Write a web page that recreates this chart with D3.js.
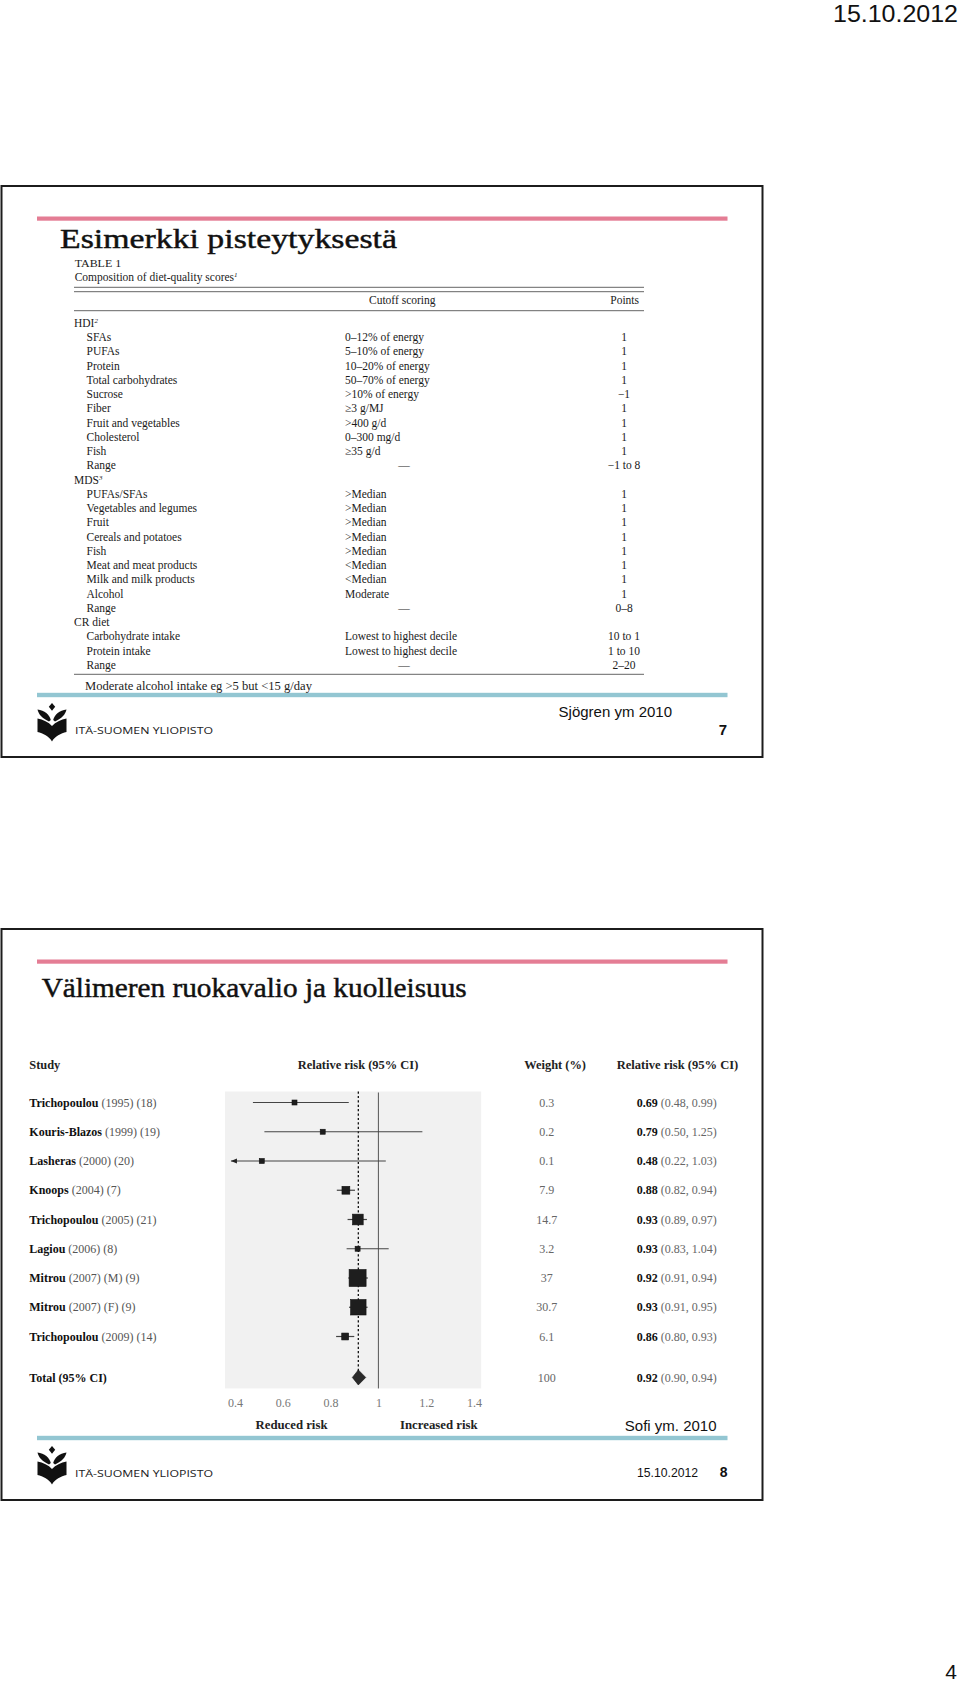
<!DOCTYPE html>
<html><head><meta charset="utf-8">
<script src="https://cdn.jsdelivr.net/npm/d3@7"></script>
<style>html,body{margin:0;padding:0;background:#fff}svg{display:block}</style>
</head><body>
<svg id="c" width="960" height="1684"></svg>
<script>
// ---------------- DATA ----------------
const pageDate = "15.10.2012";
const pageNumber = "4";

// Slide 1
const slide1Title = "Esimerkki pisteytyksestä";
const tableTitle = "TABLE 1";
const tableCaption = "Composition of diet-quality scores";
const tableHeaders = ["Cutoff scoring", "Points"];
const groupNames = ["HDI", "MDS", "CR diet"];
const groupSups = ["2", "3", ""];
const hdiItems = ["SFAs","PUFAs","Protein","Total carbohydrates","Sucrose","Fiber","Fruit and vegetables","Cholesterol","Fish","Range"];
const hdiCutoffs = ["0–12% of energy","5–10% of energy","10–20% of energy","50–70% of energy",">10% of energy","≥3 g/MJ",">400 g/d","0–300 mg/d","≥35 g/d","—"];
const hdiPoints = ["1","1","1","1","−1","1","1","1","1","−1 to 8"];
const mdsItems = ["PUFAs/SFAs","Vegetables and legumes","Fruit","Cereals and potatoes","Fish","Meat and meat products","Milk and milk products","Alcohol","Range"];
const mdsCutoffs = [">Median",">Median",">Median",">Median",">Median","<Median","<Median","Moderate","—"];
const mdsPoints = ["1","1","1","1","1","1","1","1","0–8"];
const crItems = ["Carbohydrate intake","Protein intake","Range"];
const crCutoffs = ["Lowest to highest decile","Lowest to highest decile","—"];
const crPoints = ["10 to 1","1 to 10","2–20"];
const footnote1 = "Moderate alcohol intake eg >5 but <15 g/day";
const source1 = "Sjögren ym 2010";
const slideNo1 = "7";

// Slide 2 (forest plot)
const slide2Title = "Välimeren ruokavalio ja kuolleisuus";
const forestHeaders = ["Study", "Relative risk (95% CI)", "Weight (%)", "Relative risk (95% CI)"];
const studyNames = ["Trichopoulou","Kouris-Blazos","Lasheras","Knoops","Trichopoulou","Lagiou","Mitrou","Mitrou","Trichopoulou"];
const studyRefs = ["(1995) (18)","(1999) (19)","(2000) (20)","(2004) (7)","(2005) (21)","(2006) (8)","(2007) (M) (9)","(2007) (F) (9)","(2009) (14)"];
const weights = [0.3, 0.2, 0.1, 7.9, 14.7, 3.2, 37, 30.7, 6.1];
const weightLabels = ["0.3","0.2","0.1","7.9","14.7","3.2","37","30.7","6.1"];
const rrLabels = ["0.69","0.79","0.48","0.88","0.93","0.93","0.92","0.93","0.86"];
const ciLabels = ["(0.48, 0.99)","(0.50, 1.25)","(0.22, 1.03)","(0.82, 0.94)","(0.89, 0.97)","(0.83, 1.04)","(0.91, 0.94)","(0.91, 0.95)","(0.80, 0.93)"];
// marker positions as drawn in the plot
const estDrawn = [0.649, 0.767, 0.512, 0.864, 0.914, 0.913, 0.913, 0.916, 0.861];
const lowDrawn = [0.475, 0.523, 0.22, 0.826, 0.871, 0.867, 0.874, 0.877, 0.823];
const highDrawn = [0.876, 1.184, 1.031, 0.902, 0.952, 1.043, 0.956, 0.955, 0.899];
const totalLabel = "Total (95% CI)";
const totalWeight = "100";
const totalRR = "0.92", totalCI = "(0.90, 0.94)";
const totalEst = 0.916, totalLow = 0.891, totalHigh = 0.947;
const xTicks = [0.4, 0.6, 0.8, 1, 1.2, 1.4];
const panelDomain = [0.358, 1.43];
const riskLabels = ["Reduced risk", "Increased risk"];
const source2 = "Sofi ym. 2010";
const slideDate2 = "15.10.2012";
const slideNo2 = "8";
const uniName = "ITÄ-SUOMEN YLIOPISTO";

// ---------------- STYLE ----------------
const SERIF = "'Liberation Serif','Times New Roman',serif";
const SANS = "'Liberation Sans',Arial,sans-serif";
const PINK = "#e47d94";
const BLUE = "#93c6d2";
const svg = d3.select("#c");

// page texts
svg.append("text").attr("x", 958).attr("y", 22).attr("text-anchor", "end")
  .attr("font-family", SANS).attr("font-size", 24).attr("fill", "#111")
  .attr("textLength", 125).attr("lengthAdjust", "spacingAndGlyphs").text(pageDate);
svg.append("text").attr("x", 957).attr("y", 1679).attr("text-anchor", "end")
  .attr("font-family", SANS).attr("font-size", 21).attr("fill", "#111").text(pageNumber);

// ---------------- FRAME ----------------
function frame(top) {
  const g = svg.append("g").attr("transform", `translate(0,${top})`);
  g.append("rect").attr("x", 1.5).attr("y", 0).attr("width", 761).attr("height", 571)
    .attr("fill", "none").attr("stroke", "#1c1c1c").attr("stroke-width", 2);
  g.append("rect").attr("x", 37).attr("y", 30.5).attr("width", 690.5).attr("height", 4.2).attr("fill", PINK);
  g.append("rect").attr("x", 37).attr("y", 506.8).attr("width", 690.5).attr("height", 4.4).attr("fill", BLUE);
  const lg = g.append("g").attr("transform", "translate(37,517)").attr("fill", "#111");
  lg.append("path").attr("d", "M15,0 L18.2,3.8 L15,7.8 L11.8,3.8 Z");
  lg.append("path").attr("d", "M13.8,17 C12.5,11.5 7.5,7.5 0.5,6.5 C1.5,11.5 5.5,15.5 12,18.5 Z");
  lg.append("path").attr("d", "M16.2,17 C17.5,11.5 22.5,7.5 29.5,6.5 C28.5,11.5 24.5,15.5 18,18.5 Z");
  lg.append("path").attr("d", "M0.5,15.5 C6,16.5 11.5,19 15,23 C18.5,19 24,16.5 29.5,15.5 L29.5,29 C24,30.5 18,33 15,38.5 C12,33 6,30.5 0.5,29 Z");
  g.append("text").attr("x", 75).attr("y", 547.5).attr("font-family", "'Open Sans',Lato,sans-serif")
    .attr("font-size", 9.5).attr("fill", "#222").attr("textLength", 138).attr("lengthAdjust", "spacingAndGlyphs")
    .text(uniName);
  return g;
}
frame(186);
frame(929);

// ---------------- SLIDE 1 ----------------
const s1 = svg.append("g");
s1.append("text").attr("x", 60).attr("y", 248).attr("font-family", SERIF).attr("font-size", 28)
  .attr("fill", "#111").attr("stroke", "#111").attr("stroke-width", 0.45)
  .attr("textLength", 337).attr("lengthAdjust", "spacingAndGlyphs").text(slide1Title);
s1.append("text").attr("x", 74.7).attr("y", 266.5).attr("font-family", SERIF).attr("font-size", 11)
  .attr("fill", "#222").attr("textLength", 46.5).attr("lengthAdjust", "spacingAndGlyphs").text(tableTitle);
const cap = s1.append("text").attr("x", 74.7).attr("y", 281).attr("font-family", SERIF).attr("font-size", 11.5).attr("fill", "#222");
cap.append("tspan").text(tableCaption);
cap.append("tspan").attr("dy", -4).attr("font-size", 7).attr("font-style", "italic").text("1");

[287.3, 291.7, 310.7, 674.3].forEach(yv => {
  s1.append("line").attr("x1", 74).attr("x2", 644).attr("y1", yv).attr("y2", yv)
    .attr("stroke", "#555").attr("stroke-width", 0.9);
});
s1.append("text").attr("x", 369).attr("y", 303.5).attr("font-family", SERIF).attr("font-size", 11.5).attr("fill", "#222").text(tableHeaders[0]);
s1.append("text").attr("x", 639).attr("y", 303.5).attr("text-anchor", "end").attr("font-family", SERIF).attr("font-size", 11.5).attr("fill", "#222").text(tableHeaders[1]);

const groups = [
  [hdiItems, hdiCutoffs, hdiPoints],
  [mdsItems, mdsCutoffs, mdsPoints],
  [crItems, crCutoffs, crPoints]
];
const tableRows = [];
groups.forEach((grp, gi) => {
  tableRows.push({ group: true, label: groupNames[gi], sup: groupSups[gi] });
  grp[0].forEach((lab, i) => tableRows.push({ group: false, label: lab, cutoff: grp[1][i], points: grp[2][i] }));
});
const yTab = d3.scaleLinear().domain([0, tableRows.length - 1]).range([327, 668.8]);
const rowG = s1.selectAll("g.trow").data(tableRows).join("g").attr("class", "trow")
  .attr("transform", (d, i) => `translate(0,${yTab(i)})`)
  .attr("font-family", SERIF).attr("font-size", 11.5).attr("fill", "#1a1a1a");
rowG.each(function(d) {
  const r = d3.select(this);
  const t = r.append("text").attr("x", d.group ? 74 : 86.5).attr("y", 0);
  t.append("tspan").text(d.label);
  if (d.group && d.sup) t.append("tspan").attr("dy", -4).attr("font-size", 7).attr("font-style", "italic").text(d.sup);
  if (!d.group) {
    r.append("text").attr("x", d.cutoff === "—" ? 404 : 345).attr("text-anchor", d.cutoff === "—" ? "middle" : "start").attr("y", 0).text(d.cutoff);
    r.append("text").attr("x", 624).attr("text-anchor", "middle").attr("y", 0).text(d.points);
  }
});
s1.append("text").attr("x", 85).attr("y", 690).attr("font-family", SERIF).attr("font-size", 12)
  .attr("fill", "#222").attr("textLength", 227).attr("lengthAdjust", "spacingAndGlyphs").text(footnote1);
s1.append("text").attr("x", 672).attr("y", 717).attr("text-anchor", "end").attr("font-family", SANS)
  .attr("font-size", 15).attr("fill", "#111").text(source1);
s1.append("text").attr("x", 727).attr("y", 734.5).attr("text-anchor", "end").attr("font-family", SANS)
  .attr("font-size", 15).attr("font-weight", "bold").attr("fill", "#111").text(slideNo1);

// ---------------- SLIDE 2 ----------------
const s2 = svg.append("g");
s2.append("text").attr("x", 41.7).attr("y", 997).attr("font-family", SERIF).attr("font-size", 27)
  .attr("fill", "#111").attr("stroke", "#111").attr("stroke-width", 0.45)
  .attr("textLength", 425).attr("lengthAdjust", "spacingAndGlyphs").text(slide2Title);

const hdrX = [29.3, 297.7, 524.3, 616.7];
const hdrW = [31, 120.6, 61.7, 121.6];
forestHeaders.forEach((h, i) => {
  s2.append("text").attr("x", hdrX[i]).attr("y", 1068.5).attr("font-family", SERIF).attr("font-size", 12)
    .attr("font-weight", "bold").attr("fill", "#222").attr("textLength", hdrW[i]).attr("lengthAdjust", "spacingAndGlyphs").text(h);
});

const x = d3.scaleLinear().domain([0.4, 1.4]).range([235, 474]);
const yRow = d3.scaleLinear().domain([0, 8]).range([1102.5, 1336.5]);
const totalRow = 9.4;
const boxSize = d3.scaleSqrt().domain([0, 37]).range([0, 17]);
const panelTop = yRow(0) - 11, panelBottom = yRow(totalRow) + 11;

s2.append("rect").attr("x", x(panelDomain[0])).attr("y", panelTop)
  .attr("width", x(panelDomain[1]) - x(panelDomain[0])).attr("height", panelBottom - panelTop).attr("fill", "#f1f1f1");

// reference line at 1
s2.append("line").attr("x1", x(1)).attr("x2", x(1)).attr("y1", panelTop + 1).attr("y2", panelBottom)
  .attr("stroke", "#555").attr("stroke-width", 1);
// pooled estimate dashed line
s2.append("line").attr("x1", x(totalEst)).attr("x2", x(totalEst)).attr("y1", panelTop).attr("y2", yRow(totalRow) + 7)
  .attr("stroke", "#111").attr("stroke-width", 1.3).attr("stroke-dasharray", "2.2,2.2");

const rows = studyNames.map((n, i) => ({ i, n, ref: studyRefs[i], w: weights[i], wl: weightLabels[i], rr: rrLabels[i], ci: ciLabels[i], est: estDrawn[i], lo: lowDrawn[i], hi: highDrawn[i] }));
const arrowTip = panelDomain[0] + 0.025;

const marks = s2.selectAll("g.study").data(rows).join("g").attr("class", "study");
marks.each(function(d) {
  const g = d3.select(this);
  const yy = yRow(d.i);
  const clipped = d.lo < panelDomain[0];
  const x1 = clipped ? x(arrowTip) : x(d.lo);
  g.append("line").attr("x1", x1).attr("x2", x(d.hi)).attr("y1", yy).attr("y2", yy)
    .attr("stroke", "#444").attr("stroke-width", 1.2);
  if (clipped) {
    g.append("path").attr("d", d3.line()([[x1, yy], [x1 + 6, yy - 2.6], [x1 + 6, yy + 2.6]]) + "Z").attr("fill", "#222");
  }
  const s = Math.max(5, boxSize(d.w));
  g.append("rect").attr("x", x(d.est) - s / 2).attr("y", yy - s / 2).attr("width", s).attr("height", s)
    .attr("fill", "#1e1e1e").attr("stroke", "#111").attr("stroke-width", 0.6);
  // texts
  const t = g.append("text").attr("x", 29.3).attr("y", yy + 4.2).attr("font-family", SERIF).attr("font-size", 12);
  t.append("tspan").attr("font-weight", "bold").attr("fill", "#111").text(d.n);
  t.append("tspan").attr("fill", "#555").text("\u00A0" + d.ref);
  g.append("text").attr("x", 546.7).attr("y", yy + 4.2).attr("text-anchor", "middle").attr("font-family", SERIF)
    .attr("font-size", 12).attr("fill", "#666").text(d.wl);
  const r = g.append("text").attr("x", 636.7).attr("y", yy + 4.2).attr("font-family", SERIF).attr("font-size", 12);
  r.append("tspan").attr("font-weight", "bold").attr("fill", "#111").text(d.rr);
  r.append("tspan").attr("fill", "#666").text("\u00A0" + d.ci);
});

// total row
const yT = yRow(totalRow);
s2.append("path").attr("d", d3.line()([[x(totalLow), yT], [x(totalEst), yT - 7.5], [x(totalHigh), yT], [x(totalEst), yT + 7.5]]) + "Z")
  .attr("fill", "#2a2a2a").attr("stroke", "#111").attr("stroke-width", 0.6);
s2.append("text").attr("x", 29.3).attr("y", yT + 4.2).attr("font-family", SERIF).attr("font-size", 12)
  .attr("font-weight", "bold").attr("fill", "#111").text(totalLabel);
s2.append("text").attr("x", 546.7).attr("y", yT + 4.2).attr("text-anchor", "middle").attr("font-family", SERIF)
  .attr("font-size", 12).attr("fill", "#666").text(totalWeight);
const tr = s2.append("text").attr("x", 636.7).attr("y", yT + 4.2).attr("font-family", SERIF).attr("font-size", 12);
tr.append("tspan").attr("font-weight", "bold").attr("fill", "#111").text(totalRR);
tr.append("tspan").attr("fill", "#666").text("\u00A0" + totalCI);

// axis
const axG = s2.append("g").attr("transform", `translate(0,${panelBottom})`)
  .call(d3.axisBottom(x).tickValues(xTicks).tickSize(0).tickPadding(10).tickFormat(d => String(d)));
axG.select(".domain").remove();
axG.selectAll("text").attr("font-family", SERIF).attr("font-size", 12).attr("fill", "#777");

s2.append("text").attr("x", 291.5).attr("y", 1429).attr("text-anchor", "middle").attr("font-family", SERIF)
  .attr("font-size", 12.5).attr("font-weight", "bold").attr("fill", "#222").attr("textLength", 72).attr("lengthAdjust", "spacingAndGlyphs").text(riskLabels[0]);
s2.append("text").attr("x", 438.8).attr("y", 1429).attr("text-anchor", "middle").attr("font-family", SERIF)
  .attr("font-size", 12.5).attr("font-weight", "bold").attr("fill", "#222").attr("textLength", 77.6).attr("lengthAdjust", "spacingAndGlyphs").text(riskLabels[1]);

s2.append("text").attr("x", 716.5).attr("y", 1431).attr("text-anchor", "end").attr("font-family", SANS)
  .attr("font-size", 15).attr("fill", "#111").text(source2);
s2.append("text").attr("x", 637).attr("y", 1476.5).attr("font-family", SANS).attr("font-size", 13)
  .attr("fill", "#111").attr("textLength", 61).attr("lengthAdjust", "spacingAndGlyphs").text(slideDate2);
s2.append("text").attr("x", 727.5).attr("y", 1477).attr("text-anchor", "end").attr("font-family", SANS)
  .attr("font-size", 14).attr("font-weight", "bold").attr("fill", "#111").text(slideNo2);
</script>
</body></html>
